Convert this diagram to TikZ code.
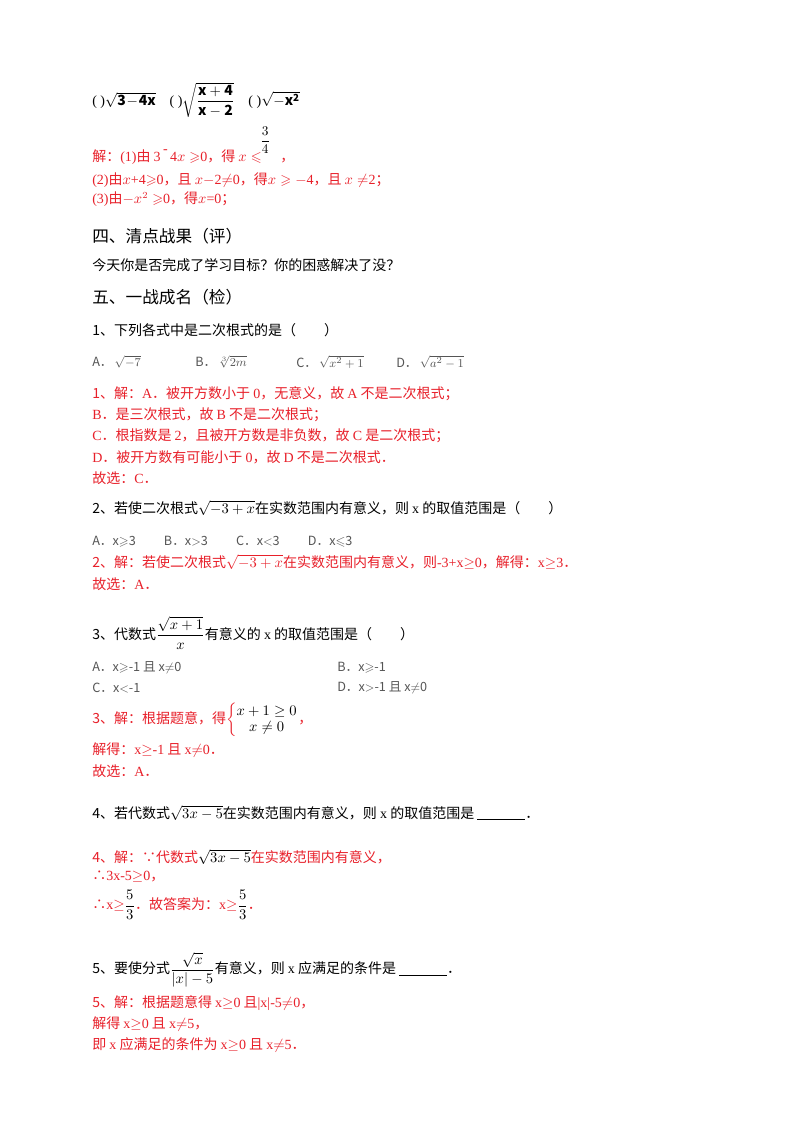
\documentclass[tikz,border=0pt]{standalone}
\usepackage{amsmath,amssymb}
\usepackage{fontspec}
\setmainfont{Noto Sans CJK SC}
\newfontfamily\serif{Liberation Serif}
\definecolor{rd}{HTML}{E8202A}
\definecolor{gy}{HTML}{555555}
\begin{document}
\begin{tikzpicture}[x=0.75pt,y=0.75pt,
  t/.style={anchor=west,inner sep=0pt,font=\fontsize{10.5}{12}\selectfont},
  r/.style={t,text=rd},
  h/.style={t,font=\fontsize{12.5}{14}\selectfont},
  o/.style={t,text=gy,font=\fontsize{9.5}{11}\selectfont}]
\useasboundingbox (0,0) rectangle (800,-1132);
\fill[white] (0,0) rectangle (800,-1132);
\node[t] (l0) at (92,-100) {\serif ( )$\sqrt{\mathbf{3\!-\!4x}}$\quad ( )$\sqrt{\dfrac{\mathbf{x+4}}{\mathbf{x-2}}}$\quad ( )$\sqrt{\mathbf{-x^2}}$};
\node[t,font=\fontsize{10}{11}\serif] (f34) at (260,-140) {$\dfrac{3}{4}$};
\node[r] (s1) at (92,-157) {解：{\serif(1)}由 {\serif 3}\,\raisebox{6pt}{\serif -}\,{\serif 4$x\geqslant$0}，得 {\serif$x\leqslant$}\hspace{14pt}，};
\node[r] (s2) at (92,-180) {{\serif(2)}由{\serif$x$+4$\geqslant$0}，且 {\serif$x-$2$\neq$0}，得{\serif$x\geqslant-$4}，且 {\serif$x\neq$2}；};
\node[r] (s3) at (92,-199) {{\serif(3)}由{\serif$-x^2\geqslant$0}，得{\serif$x$=0}；};
\node[h] (h4) at (92,-236) {四、清点战果（评）};
\node[t] (q0) at (92,-265) {今天你是否完成了学习目标？你的困惑解决了没？};
\node[h] (h5) at (92,-297) {五、一战成名（检）};
\node[t] (q1) at (92,-330) {1、下列各式中是二次根式的是（\qquad）};
\node[o] (q1a) at (92,-362) {A．\,$\sqrt{-7}$};
\node[o] (q1b) at (195,-362) {B．\,$\sqrt[3]{2m}$};
\node[o] (q1c) at (296,-362) {C．\,$\sqrt{x^2+1}$};
\node[o] (q1d) at (396,-362) {D．\,$\sqrt{a^2-1}$};
\node[r] (a11) at (92,-394) {1、解：{\serif A}．被开方数小于 {\serif 0}，无意义，故 {\serif A} 不是二次根式；};
\node[r] (a12) at (92,-415) {{\serif B}．是三次根式，故 {\serif B} 不是二次根式；};
\node[r] (a13) at (92,-436) {{\serif C}．根指数是 {\serif 2}，且被开方数是非负数，故 {\serif C} 是二次根式；};
\node[r] (a14) at (92,-457) {{\serif D}．被开方数有可能小于 {\serif 0}，故 {\serif D} 不是二次根式．};
\node[r] (a15) at (92,-478) {故选：{\serif C}．};
\node[t] (q2) at (92,-508) {2、若使二次根式$\sqrt{-3+x}$在实数范围内有意义，则 {\serif x} 的取值范围是（\qquad）};
\node[o] (q2o) at (92,-542) {A．x$\geqslant$3\qquad\ B．x$>$3\qquad\ C．x$<$3\qquad\ D．x$\leqslant$3};
\node[r] (a21) at (92,-562) {2、解：若使二次根式$\sqrt{-3+x}$在实数范围内有意义，则{\serif -3+x$\geq$0}，解得：{\serif x$\geq$3}．};
\node[r] (a22) at (92,-584) {故选：{\serif A}．};
\node[t] (q3) at (92,-633) {3、代数式$\dfrac{\sqrt{x+1}}{x}$有意义的 {\serif x} 的取值范围是（\qquad）};
\node[o] (q3a) at (92,-668) {A．x$\geqslant$-1 且 x$\neq$0};
\node[o] (q3b) at (337,-668) {B．x$\geqslant$-1};
\node[o] (q3c) at (92,-688) {C．x$<$-1};
\node[o] (q3d) at (337,-688) {D．x$>$-1 且 x$\neq$0};
\node[r] (a31) at (92,-720) {3、解：根据题意，得$\left\{\begin{array}{@{}c@{}}\color{black}x+1\geq0\\\color{black}x\neq0\end{array}\right.$，};
\node[r] (a32) at (92,-750) {解得：{\serif x$\geq$-1} 且 {\serif x$\neq$0}．};
\node[r] (a33) at (92,-771) {故选：{\serif A}．};
\node[t] (q4) at (92,-813) {4、若代数式$\sqrt{3x-5}$在实数范围内有意义，则 {\serif x} 的取值范围是 \rule[-1pt]{36pt}{0.4pt}．};
\node[r] (a41) at (92,-857) {4、解：∵代数式{\color{black}$\sqrt{3x-5}$}在实数范围内有意义，};
\node[r] (a42) at (92,-877) {∴{\serif 3x-5$\geq$0}，};
\node[r] (a43) at (92,-905) {∴{\serif x$\geq$}{\color{black}$\dfrac{5}{3}$}．故答案为：{\serif x$\geq$}{\color{black}$\dfrac{5}{3}$}．};
\node[t] (q5) at (92,-970) {5、要使分式$\dfrac{\sqrt{x}}{|x|-5}$有意义，则 {\serif x} 应满足的条件是 \rule[-1pt]{36pt}{0.4pt}．};
\node[r] (a51) at (92,-1003) {5、解：根据题意得 {\serif x$\geq$0} 且{\serif |x|-5$\neq$0}，};
\node[r] (a52) at (92,-1024) {解得 {\serif x$\geq$0} 且 {\serif x$\neq$5}，};
\node[r] (a53) at (92,-1045) {即 {\serif x} 应满足的条件为 {\serif x$\geq$0} 且 {\serif x$\neq$5}．};
\end{tikzpicture}
\end{document}
